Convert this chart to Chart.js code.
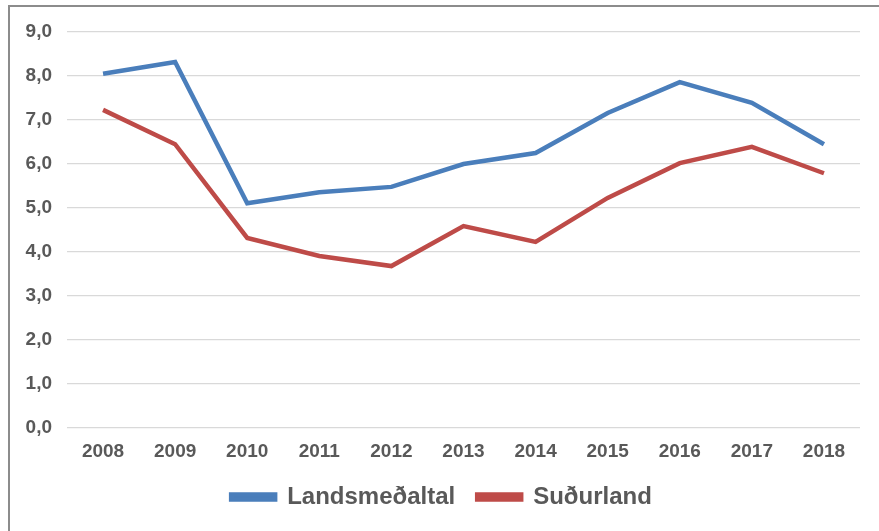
<!DOCTYPE html>
<html>
<head>
<meta charset="utf-8">
<script src="https://cdn.jsdelivr.net/npm/chart.js@4"></script>
<style>
    html, body { margin: 0; padding: 0; background: #fff; overflow: hidden; }
    #wrap { position: relative; width: 879px; height: 531px; }
    #frame {
        position: absolute; left: 8px; top: 5px; width: 900px; height: 600px;
        border-top: 2px solid #8c8c8c; border-left: 2px solid #8c8c8c;
    }
    canvas { position: absolute; left: 0; top: 0; }
</style>
</head>
<body>
<div id="wrap">
    <div id="frame"></div>
    <canvas id="chart" width="879" height="531"></canvas>
</div>
<script>
// --- data ---
const years = ['2008', '2009', '2010', '2011', '2012', '2013', '2014', '2015', '2016', '2017', '2018'];
const landsmedaltal = [8.05, 8.32, 5.11, 5.36, 5.48, 6.0, 6.25, 7.16, 7.86, 7.39, 6.45];
const sudurland = [7.23, 6.45, 4.32, 3.91, 3.68, 4.59, 4.23, 5.23, 6.02, 6.39, 5.79];

const textColor = '#595959';
const gridColor = '#d9d9d9';
const fontFamily = '"Liberation Sans", Arial, sans-serif';

const ctx = document.getElementById('chart').getContext('2d');

new Chart(ctx, {
    type: 'line',
    data: {
        labels: years,
        datasets: [{
            label: 'Landsmeðaltal',
            data: landsmedaltal,
            borderColor: '#4a7ebb',
            backgroundColor: '#4a7ebb',
            borderWidth: 4.5,
            pointRadius: 0,
            tension: 0
        }, {
            label: 'Suðurland',
            data: sudurland,
            borderColor: '#be4b48',
            backgroundColor: '#be4b48',
            borderWidth: 4.5,
            pointRadius: 0,
            tension: 0
        }]
    },
    options: {
        responsive: false,
        animation: false,
        layout: {
            padding: { left: 23, right: 19, top: 32, bottom: 12 }
        },
        plugins: {
            legend: {
                position: 'bottom',
                labels: {
                    color: textColor,
                    font: { family: fontFamily, size: 24, weight: 'bold' },
                    boxWidth: 44,
                    boxHeight: 5,
                    padding: 22
                }
            },
            tooltip: { enabled: false }
        },
        scales: {
            x: {
                offset: true,
                // fixed sizes so the plot area sits where the reference has it
                afterFit: (scale) => { scale.height = 35; },
                grid: { display: false, drawTicks: false },
                border: { display: false },
                ticks: {
                    color: textColor,
                    padding: 12,
                    maxRotation: 0,
                    font: { family: fontFamily, size: 19, weight: 'bold' }
                }
            },
            y: {
                min: 0,
                max: 9,
                afterFit: (scale) => { scale.width = 44; },
                grid: { color: gridColor, lineWidth: 1.3, drawTicks: false },
                border: { display: false },
                ticks: {
                    stepSize: 1,
                    color: textColor,
                    padding: 15,
                    font: { family: fontFamily, size: 19, weight: 'bold' },
                    callback: (value) => value.toFixed(1).replace('.', ',')
                }
            }
        }
    }
});
</script>
</body>
</html>
